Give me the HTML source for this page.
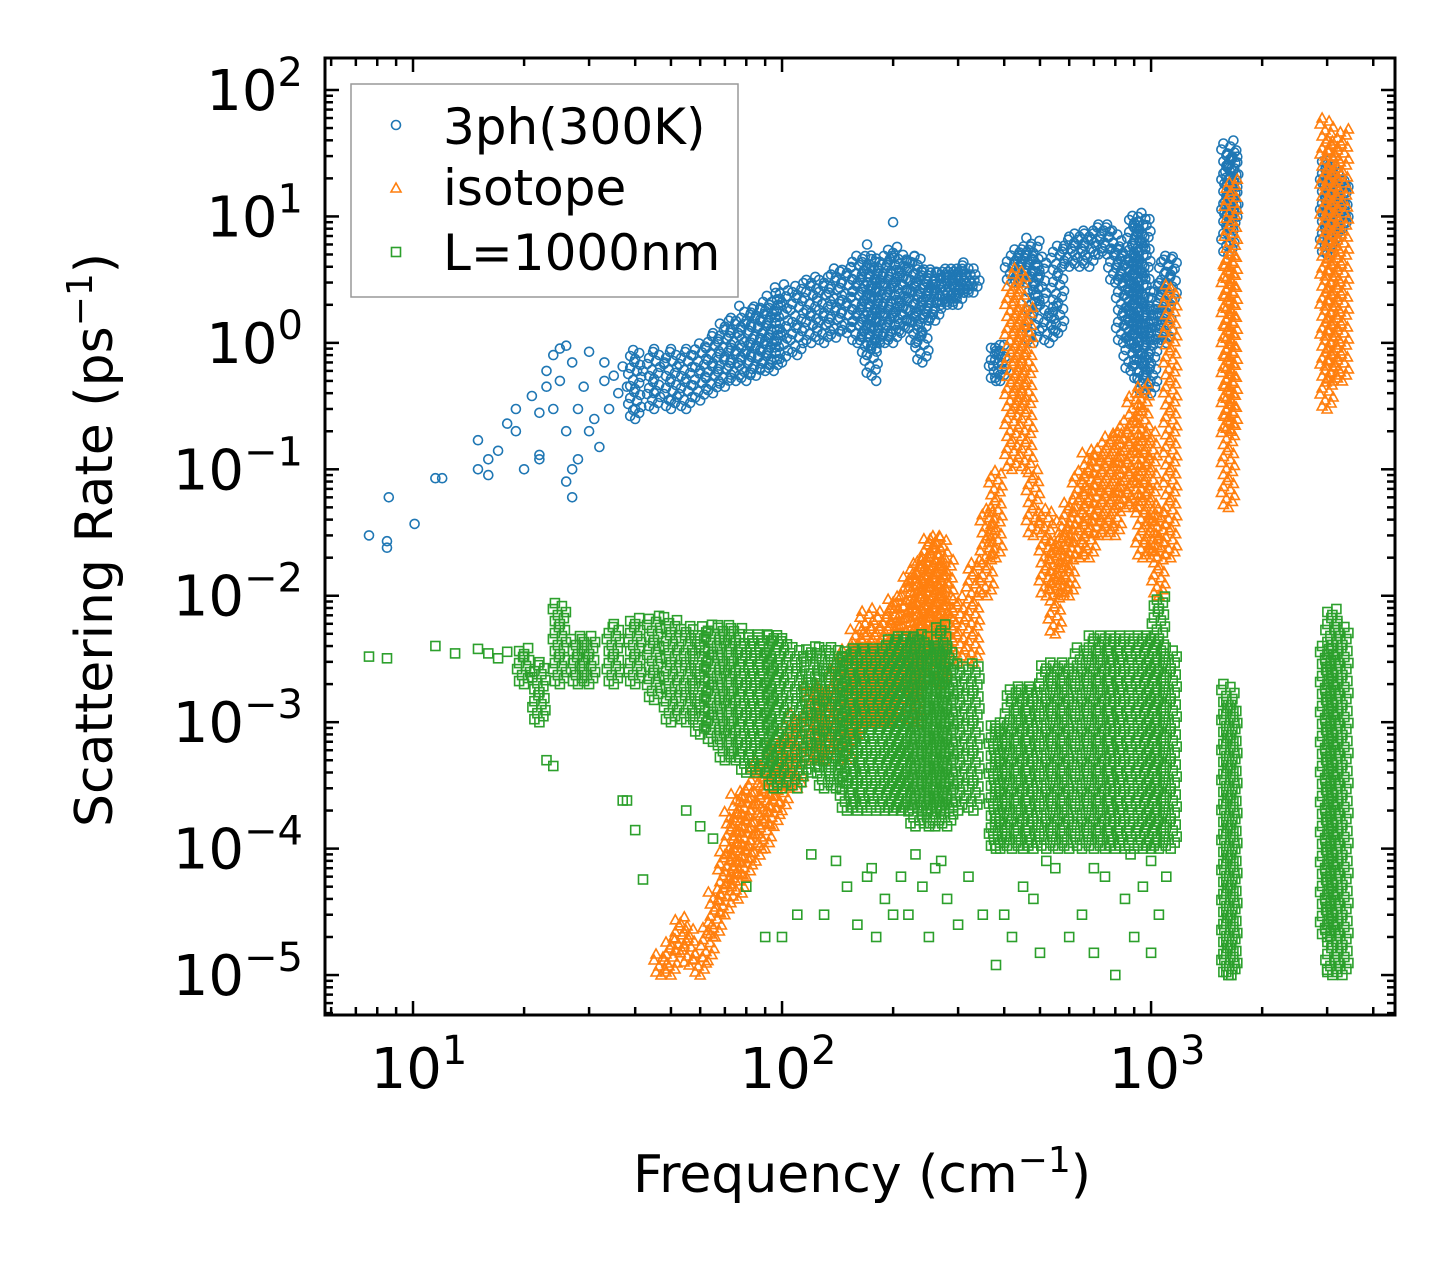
<!DOCTYPE html>
<html><head><meta charset="utf-8"><style>
html,body{margin:0;padding:0;background:#fff;}
svg text{font-family:"DejaVu Sans","Liberation Sans",sans-serif;fill:#000;}
</style></head><body>
<svg id="chart" width="1455" height="1265" xmlns="http://www.w3.org/2000/svg">
<rect width="1455" height="1265" fill="#fff"/>
<g id="marks"></g>
<g id="axes"></g>
<text transform="translate(112,540) rotate(-90)" text-anchor="middle" font-size="52">Scattering Rate (ps<tspan dy="-20" font-size="36">−1</tspan><tspan dy="20">)</tspan></text>
<text x="862" y="1192" text-anchor="middle" font-size="52">Frequency (cm<tspan dy="-20" font-size="36">−1</tspan><tspan dy="20">)</tspan></text>
<g>
<rect x="351" y="84" width="387" height="213" fill="#fff" stroke="#999" stroke-width="1.5"/>
<circle cx="396" cy="125" r="4.5" fill="none" stroke="#1f77b4" stroke-width="1.6"/>
<text x="443" y="144" font-size="50">3ph(300K)</text>
<path d="M396,183 L401,192 L391,192 Z" fill="none" stroke="#ff7f0e" stroke-width="1.6"/>
<text x="443" y="205" font-size="50">isotope</text>
<rect x="391.5" y="247.5" width="9" height="9" fill="none" stroke="#2ca02c" stroke-width="1.6"/>
<text x="443" y="270" font-size="50">L=1000nm</text>
</g>
</svg>
<script>
// ---- data ----
const bluePtsX=[7.6,8.5,8.5,8.6,10.1,11.5,12,15,15,16,16,17,18,19,19,20,21,22,22,22,23,23,24,24,25,25,26,26,26,27,27,27,28,28,29,30,30,31,32,33,33,34,35,36,37,38,40,42,45,48,50,200,170,180];
const bluePtsY=[0.03,0.027,0.024,0.06,0.037,0.085,0.085,0.1,0.17,0.09,0.12,0.14,0.23,0.3,0.2,0.1,0.38,0.28,0.13,0.12,0.6,0.45,0.8,0.3,0.9,0.5,0.95,0.2,0.08,0.06,0.1,0.7,0.12,0.3,0.45,0.85,0.2,0.25,0.15,0.5,0.7,0.3,0.55,0.4,0.65,0.45,0.3,0.6,0.4,0.7,0.35,9,6,0.5];
const blueBandX=[40,45,50,55,60,65,70,75,80,85,90,95,100,110,120,130,140,150,160,170,175,180,190,200,210,220,230,240,250,260,270,280,290,300,310,320,330,380,390,420,440,460,480,500,530,560,600,640,680,720,760,800,840,880,900,930,960,1000,1050,1100,1130,1620,1650,1660,3000,3050,3100,3250,3300];
const blueBandLo=[0.25,0.3,0.3,0.3,0.35,0.4,0.45,0.5,0.5,0.55,0.6,0.6,0.7,0.8,1,1,1.1,1.2,1,0.8,0.55,0.9,1,1,1.2,1.3,1,0.7,1.5,1.5,2,2,2,2,2.5,2.5,2.5,0.5,0.5,3,3,3,1,2,1,1.2,4,4,4,5,5,3,1,0.6,1,0.5,0.4,0.4,1,1,2,5,8,10,5,8,6,8,8];
const blueBandHi=[0.9,0.9,0.9,0.9,1,1.2,1.5,1.6,2,2,2.2,2.5,3,3,3.5,3.5,4,4,5,5,4,5,5,6,5,5,5,4,4,4,4,4,4,4,4.5,4,3.5,1,1,5,6,6,7,5,2,6,7,8,8,9,9,8,6,5,10,11,10,2,3,5,5,40,30,35,30,25,25,20,20];
const orgBandX=[47,50,53,56,60,63,66,70,73,76,80,85,90,95,100,105,110,120,130,140,150,160,170,180,190,200,210,220,230,240,250,260,270,280,300,330,360,380,420,440,460,480,520,550,580,600,640,680,720,760,800,850,900,950,1000,1050,1130,1620,1650,3000,3100,3300];
const orgBandLo=[1e-5,1e-5,1.5e-5,1.2e-5,1e-5,1.3e-5,2e-5,3e-5,5e-5,4e-5,6e-5,8e-5,1e-4,1.5e-4,2e-4,3e-4,3e-4,5e-4,5e-4,6e-4,5e-4,8e-4,1e-3,1e-3,1e-3,1e-3,2e-3,1.5e-3,1e-3,2e-3,3e-3,3e-3,2e-3,3e-3,3e-3,3e-3,1e-2,2e-2,0.1,0.3,0.1,0.03,0.01,0.005,0.01,0.01,0.02,0.02,0.03,0.03,0.03,0.05,0.05,0.02,0.02,0.01,0.02,0.05,0.2,0.3,0.5,0.5];
const orgBandHi=[1.5e-5,2e-5,3e-5,2.5e-5,1.5e-5,2.5e-5,5e-5,1e-4,2e-4,3e-4,3e-4,5e-4,5e-4,7e-4,8e-4,1e-3,1.2e-3,2e-3,2e-3,3e-3,4e-3,6e-3,8e-3,6e-3,8e-3,1e-2,1e-2,1.5e-2,2e-2,2e-2,3e-2,3e-2,3e-2,2e-2,1e-2,2e-2,5e-2,0.1,3,4,2,0.1,0.05,0.03,0.04,0.06,0.1,0.15,0.15,0.2,0.2,0.25,0.4,0.5,0.2,0.05,3,5,20,60,40,50];
const grnPtsX=[7.6,8.5,11.5,13,15,16,17,18,20,23,24,38,40,42,37,55,60,65,80,90,100,110,130,160,180,200,250,300,380,420,500,600,700,800,900,1000,1620,1650,3000,
  140,150,175,190,210,220,240,260,280,320,350,450,480,550,650,750,850,950,1050,1100,120,170,230,270,400,520,700,880,1000];
const grnPtsY=[3.3e-3,3.2e-3,4e-3,3.5e-3,3.8e-3,3.5e-3,3.2e-3,3.6e-3,3.3e-3,5e-4,4.5e-4,2.4e-4,1.4e-4,5.7e-5,2.4e-4,2e-4,1.5e-4,1.2e-4,5e-5,2e-5,2e-5,3e-5,3e-5,2.5e-5,2e-5,3e-5,2e-5,2.5e-5,1.2e-5,2e-5,1.5e-5,2e-5,1.5e-5,1e-5,2e-5,1.5e-5,1e-5,1e-5,1.1e-5,
  8e-5,5e-5,7e-5,4e-5,6e-5,3e-5,5e-5,7e-5,4e-5,6e-5,3e-5,5e-5,4e-5,7e-5,3e-5,6e-5,4e-5,5e-5,3e-5,6e-5,9e-5,6e-5,9e-5,8e-5,3e-5,8e-5,7e-5,9e-5,8e-5];
const grnBandX=[20,22,25,28,30,35,40,45,50,55,60,65,70,75,80,85,90,95,100,110,120,130,140,150,160,170,180,190,200,210,220,230,240,250,260,270,280,300,330,380,390,420,450,480,520,560,600,650,700,750,800,850,900,950,1000,1050,1130,1620,1650,3000,3100,3300];
const grnBandLo=[2e-3,1e-3,2e-3,2e-3,2e-3,2e-3,2e-3,1.5e-3,1e-3,1e-3,8e-4,7e-4,5e-4,5e-4,4e-4,4e-4,4e-4,3e-4,3e-4,3e-4,4e-4,3e-4,3e-4,2e-4,2e-4,2e-4,2e-4,2e-4,2e-4,2e-4,2e-4,1.5e-4,2e-4,1.5e-4,1.5e-4,2e-4,1.5e-4,2e-4,2e-4,1e-4,1e-4,1e-4,1e-4,1e-4,1e-4,1e-4,1e-4,1e-4,1e-4,1e-4,1e-4,1e-4,1e-4,1e-4,1e-4,1e-4,1e-4,1e-5,1e-5,2e-5,1e-5,1e-5];
const grnBandHi=[4e-3,3e-3,9e-3,5e-3,5e-3,6e-3,7e-3,7e-3,7e-3,6e-3,6e-3,6e-3,6e-3,6e-3,5e-3,5e-3,5e-3,5e-3,5e-3,4e-3,4e-3,4e-3,4e-3,4e-3,4e-3,4e-3,4e-3,4e-3,5e-3,5e-3,5e-3,5e-3,5e-3,4e-3,4e-3,6e-3,4e-3,3e-3,3e-3,1e-3,1e-3,2e-3,2e-3,2e-3,3e-3,3e-3,3e-3,4e-3,5e-3,5e-3,5e-3,5e-3,5e-3,5e-3,5e-3,1e-2,4e-3,2e-3,1.5e-3,4e-3,8e-3,6e-3];
const xTickVals=[10,100,1000];
const xTickExp=["1","2","3"];
const yTickVals=[100,10,1,0.1,0.01,0.001,1e-4,1e-5];
const yTickExp=["2","1","0","−1","−2","−3","−4","−5"];

// ---- axes ----
const L=325,R=1395,T=58,B=1015;
const xmin=0.7615,xmax=3.661,ymin=-5.316,ymax=2.253;
const sx=v=>L+(Math.log10(v)-xmin)/(xmax-xmin)*(R-L);
const sy=v=>B-(Math.log10(v)-ymin)/(ymax-ymin)*(B-T);
const NS="http://www.w3.org/2000/svg";
const marks=document.getElementById('marks'), axes=document.getElementById('axes');
function mk(tag,attrs,parent){const e=document.createElementNS(NS,tag);for(const k in attrs)e.setAttribute(k,attrs[k]);parent.appendChild(e);return e;}

const cols={blue:"#1f77b4",org:"#ff7f0e",grn:"#2ca02c"};
function marker(kind,x,y,g){
  let e;
  if(kind==='blue') e=mk('circle',{cx:x.toFixed(1),cy:y.toFixed(1),r:4.5,fill:'none',stroke:cols.blue,'stroke-width':1.6},g);
  else if(kind==='org') e=mk('path',{d:`M${x.toFixed(1)},${(y-5).toFixed(1)}l5,9h-10z`,fill:'none',stroke:cols.org,'stroke-width':1.6},g);
  else e=mk('rect',{x:(x-4.5).toFixed(1),y:(y-4.5).toFixed(1),width:9,height:9,fill:'none',stroke:cols.grn,'stroke-width':1.6},g);
  return e;
}
const offs=[0,-5,4,-2,6,-7,2,-5,5,-1];
function drawBands(kind,bx,lo,hi,name){
  const g=mk('g',{},marks);
  
  
  for(let i=0;i<bx.length;i++){
    const x=sx(bx[i]),y0=sy(lo[i]),y1=sy(hi[i]);
    let k=0;
    for(let y=y0;y>=y1-0.1;y-=3){
      const m=marker(kind,x+offs[k%offs.length],y,g);
      
      
      k++;
    }
  }
  return g;
}
function drawPts(kind,px,py,name){
  const g=mk('g',{},marks);
  
  
  for(let i=0;i<px.length;i++){
    const m=marker(kind,sx(px[i]),sy(py[i]),g);
    
    
  }
}
drawPts('blue',bluePtsX,bluePtsY,'series-3ph-sparse');
drawBands('blue',blueBandX,blueBandLo,blueBandHi,'series-3ph');
drawBands('org',orgBandX,orgBandLo,orgBandHi,'series-isotope');
drawBands('grn',grnBandX,grnBandLo,grnBandHi,'series-boundary');
drawPts('grn',grnPtsX,grnPtsY,'series-boundary-sparse');

// frame
const fr=mk('rect',{x:L,y:T,width:R-L,height:B-T,fill:'none',stroke:'#000','stroke-width':3},axes);


for(let d=0;d<=4;d++){for(let m=1;m<=9;m++){
  const v=m*Math.pow(10,d);const x=sx(v);if(x<L||x>R)continue;
  const len=m===1?14:8;
  mk('line',{x1:x,y1:B,x2:x,y2:B-len,stroke:'#000','stroke-width':2.5},axes);
  mk('line',{x1:x,y1:T,x2:x,y2:T+len,stroke:'#000','stroke-width':2.5},axes);
}}
for(let e=-6;e<=2;e++){for(let m=1;m<=9;m++){
  const v=m*Math.pow(10,e);const y=sy(v);if(y<T||y>B)continue;
  const len=m===1?14:8;
  mk('line',{x1:L,y1:y,x2:L+len,y2:y,stroke:'#000','stroke-width':2.5},axes);
  mk('line',{x1:R,y1:y,x2:R-len,y2:y,stroke:'#000','stroke-width':2.5},axes);
}}
xTickVals.forEach((v,i)=>{
  const t=mk('text',{x:sx(v)+6,y:1088,'text-anchor':'middle','font-size':56},axes);
  
  
  t.innerHTML=`10<tspan dy="-24" font-size="40">${xTickExp[i]}</tspan>`;
});
yTickVals.forEach((v,i)=>{
  const t=mk('text',{x:303,y:sy(v)+20,'text-anchor':'end','font-size':56},axes);
  
  
  t.innerHTML=`10<tspan dy="-24" font-size="40">${yTickExp[i]}</tspan>`;
});
</script>
</body></html>
